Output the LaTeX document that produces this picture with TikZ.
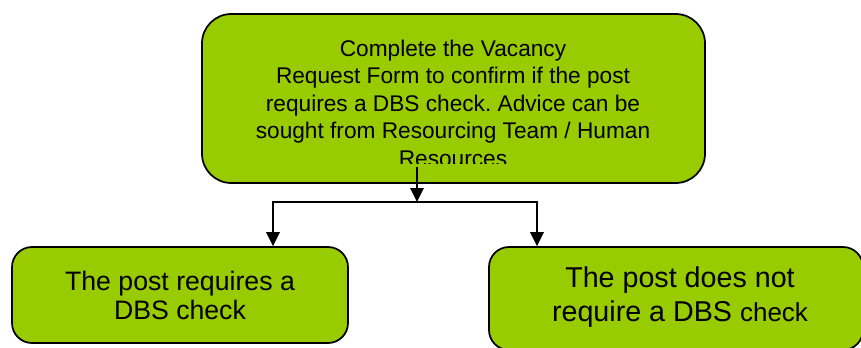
\documentclass[tikz,border=0pt]{standalone}
\usepackage{fontspec}
\setmainfont{Liberation Sans}
\usetikzlibrary{arrows.meta}
\definecolor{boxgreen}{HTML}{99CC00}
\frenchspacing
\tikzset{
  stepbox/.style={draw=black, line width=1.3pt, fill=boxgreen, align=center, inner sep=0pt},
  arrow/.style={line width=1.7pt, {Triangle[length=10.5pt,width=10pt]}-{Triangle[length=10.5pt,width=10pt]}}
}
\begin{document}
\begin{tikzpicture}[x=0.75pt, y=-0.75pt]
    \useasboundingbox (0,0) rectangle (861,347);
    \clip (0,0) rectangle (861,347);
    \node [stepbox, rounded corners=22pt, minimum width=377.25pt, minimum height=126.75pt] (form) at (453.5,98.5) {};
    \begin{scope}
      \clip (form.north west) rectangle (705,163);
      \node [align=center, font=\fontsize{17pt}{20.6pt}\selectfont] (formtext) at (453,103)
        {Complete the Vacancy\\Request Form to confirm if the post\\requires a DBS check. Advice can be\\sought from Resourcing Team / Human\\Resources};
    \end{scope}
    \node [stepbox, rounded corners=15pt, minimum width=252pt, minimum height=72pt, font=\fontsize{20pt}{21.75pt}\selectfont] (yes) at (180,295)
      {The post requires a\\DBS check};
    \node [stepbox, rounded corners=15pt, minimum width=280.5pt, minimum height=77.25pt, font=\fontsize{21.5pt}{26pt}\selectfont] (no) at (676,298.5) {};
    \node [align=center, font=\fontsize{21.5pt}{26pt}\selectfont] (notext) at (680,297)
      {The post does not\\require a DBS {\fontsize{19.5pt}{26pt}\selectfont check}};
    \coordinate (out) at (417,167);
    \coordinate (fork) at (417,202);
    \coordinate (forkl) at (273,202);
    \coordinate (forkr) at (537,202);
    \draw [line width=1.7pt, -{Triangle[length=10.5pt,width=10pt]}] (out) -- (fork);
    \draw [arrow] (forkl |- yes.north) -- (forkl) -- (forkr) -- (forkr |- no.north);
  \end{tikzpicture}
\end{document}
